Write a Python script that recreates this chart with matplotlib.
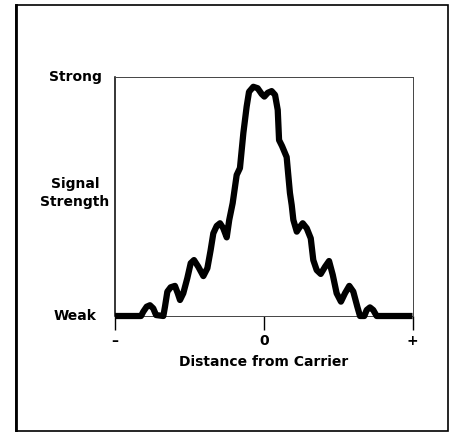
import matplotlib
matplotlib.use('Agg')
import matplotlib.pyplot as plt
from matplotlib import transforms
from matplotlib.patches import Rectangle
from matplotlib.lines import Line2D

# distance from carrier (-1 .. +1) and relative signal strength (0 = weak, 1 = strong)
distance = [-1.000, -0.825, -0.810, -0.787, -0.765, -0.743, -0.724, -0.675, -0.664, -0.648,
            -0.626, -0.597, -0.578, -0.563, -0.541, -0.514, -0.491, -0.469, -0.440, -0.406,
            -0.379, -0.357, -0.339, -0.316, -0.294, -0.272, -0.249, -0.232, -0.209, -0.182,
            -0.160, -0.137, -0.115, -0.099, -0.070, -0.041, -0.014, 0.004, 0.027, 0.053,
            0.076, 0.094, 0.103, 0.123, 0.154, 0.163, 0.176, 0.188, 0.199, 0.222,
            0.244, 0.262, 0.289, 0.316, 0.333, 0.356, 0.383, 0.412, 0.439, 0.464,
            0.490, 0.519, 0.546, 0.575, 0.602, 0.629, 0.647, 0.676, 0.692, 0.714,
            0.736, 0.759, 1.000]
strength = [0.0, 0.0, 0.018, 0.039, 0.045, 0.032, 0.004, 0.0, 0.039, 0.102,
            0.120, 0.126, 0.095, 0.067, 0.095, 0.158, 0.221, 0.234, 0.206, 0.167,
            0.200, 0.276, 0.346, 0.377, 0.388, 0.367, 0.329, 0.402, 0.472, 0.590,
            0.619, 0.766, 0.876, 0.938, 0.959, 0.953, 0.929, 0.918, 0.934, 0.941,
            0.925, 0.862, 0.736, 0.711, 0.665, 0.603, 0.515, 0.464, 0.402, 0.353,
            0.374, 0.388, 0.367, 0.325, 0.234, 0.192, 0.176, 0.206, 0.230, 0.172,
            0.095, 0.060, 0.095, 0.126, 0.102, 0.039, 0.0, 0.0, 0.025, 0.036,
            0.025, 0.0, 0.0]

x_ticks = [-1, 0, 1]
x_ticklabels = ['\u2013', '0', '+']
y_labels = {1.0: 'Strong', 0.515: 'Signal\nStrength', 0.0: 'Weak'}

plt.rcParams['font.family'] = 'DejaVu Sans'
plt.rcParams['font.weight'] = 'bold'
fig = plt.figure(figsize=(4.5, 4.32), dpi=100)
ax = fig.add_axes([115 / 450, 1 - 316 / 432, 297.5 / 450, 239 / 432])

ax.plot(distance, strength, color='black', lw=4.5, solid_joinstyle='round',
        solid_capstyle='butt', clip_on=False, zorder=5)
ax.set_xlim(-1, 1)
ax.set_ylim(0, 1)

ax.set_xticks(x_ticks)
ax.set_xticklabels(x_ticklabels, fontsize=10, fontweight='bold')
ax.tick_params(axis='x', direction='out', length=10, width=1, pad=3)
ax.set_yticks([])
ax.set_xlabel('Distance from Carrier', fontsize=10, fontweight='bold', labelpad=5)

for side in ['top', 'right', 'bottom']:
    ax.spines[side].set_linewidth(0.7)
    ax.spines[side].set_color('#444444')
ax.spines['left'].set_linewidth(1.1)

trans = transforms.blended_transform_factory(fig.transFigure, ax.transData)
for yv, lab in y_labels.items():
    ax.text(75 / 450, yv, lab, transform=trans, ha='center', va='center',
            fontsize=10, fontweight='bold', linespacing=1.3)

# outer frame
fig.patches.append(Rectangle((16 / 450, 1 / 432), 432 / 450, 426 / 432,
                             transform=fig.transFigure, fill=False,
                             edgecolor='black', lw=1.2))
fig.lines.append(Line2D([16 / 450, 16 / 450], [1 / 432, 427 / 432],
                        transform=fig.transFigure, color='black', lw=2))

plt.savefig('out.png', dpi=100)
